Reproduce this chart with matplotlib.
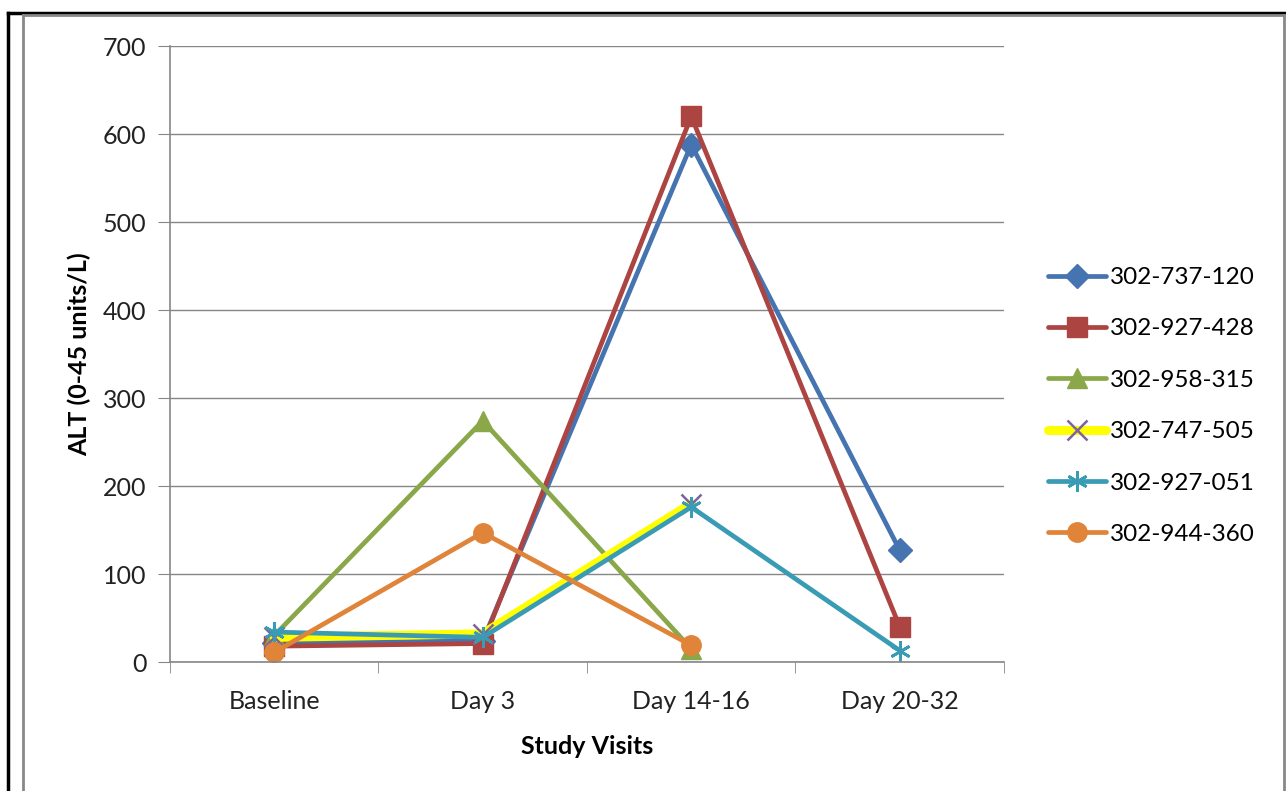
import numpy as np
import matplotlib.pyplot as plt
from matplotlib.lines import Line2D

plt.rcParams['font.family'] = ['Lato', 'DejaVu Sans']

visits = ['Baseline', 'Day 3', 'Day 14-16', 'Day 20-32']
patients = ['302-737-120', '302-927-428', '302-958-315',
            '302-747-505', '302-927-051', '302-944-360']

# ALT values per visit (nan = no visit)
alt_737_120 = [22, 24, 588, 127]
alt_927_428 = [18, 21, 620, 40]
alt_958_315 = [30, 274, 15, np.nan]
alt_747_505 = [28, 32, 180, np.nan]
alt_927_051 = [34, 28, 176, 13]
alt_944_360 = [11, 147, 19, np.nan]

series = [alt_737_120, alt_927_428, alt_958_315,
          alt_747_505, alt_927_051, alt_944_360]

styles = [
    dict(color='#4674B0', marker='D', lw=3.4, ms=12, mfc='#4674B0', mec='#4674B0'),
    dict(color='#AC4442', marker='s', lw=3.4, ms=14, mfc='#AC4442', mec='#AC4442'),
    dict(color='#8AA84A', marker='^', lw=3.4, ms=14, mfc='#8AA84A', mec='#8AA84A'),
    dict(color='#FFFF00', marker='x', lw=6.5, ms=15, mfc='none', mec='#7E62A0', mew=1.8),
    dict(color='#3A9BB4', marker=(6, 2, 0), lw=3.4, ms=15, mfc='none', mec='#3A9BB4', mew=2),
    dict(color='#E0843A', marker='o', lw=3.4, ms=14, mfc='#E0843A', mec='#E0843A'),
]

fig = plt.figure(figsize=(12.86, 7.91), dpi=100)
ax = fig.add_axes([170 / 1286, (791 - 662) / 791, (1004 - 170) / 1286, (662 - 46) / 791])

x = np.arange(len(visits))
for name, vals, st in zip(patients, series, styles):
    ax.plot(x, vals, label=name, solid_capstyle='round', **st)

ax.set_xlim(-0.5, len(visits) - 0.5)
ax.set_ylim(0, 700)
ax.set_yticks(np.arange(0, 701, 100))
ax.set_xticks(x)
ax.set_xticklabels(visits)
ax.set_xticks(np.arange(-0.5, len(visits), 1), minor=True)
ax.tick_params(axis='x', which='major', length=0, pad=20, labelsize=18, labelcolor='#222222')
ax.tick_params(axis='x', which='minor', length=8, color='#868686', direction='out')
ax.tick_params(axis='y', length=9, color='#868686', pad=8, labelsize=18, labelcolor='#222222')
ax.grid(axis='y', color='#868686', lw=1)
ax.set_axisbelow(True)
for s in ['top', 'right']:
    ax.spines[s].set_visible(False)
for s in ['left', 'bottom']:
    ax.spines[s].set_color('#868686')
    ax.spines[s].set_linewidth(1.2)

ax.set_xlabel('Study Visits', fontsize=18, fontweight='bold', labelpad=16)
ax.set_ylabel('ALT (0-45 units/L)', fontsize=18, fontweight='bold', labelpad=8)

ax.legend(loc='center left', bbox_to_anchor=(1026 / 1286, 385 / 791),
          bbox_transform=fig.transFigure, frameon=False, fontsize=17.5,
          handlelength=2.4, labelspacing=1.25, handletextpad=0.15)

# page borders
fig.add_artist(Line2D([8 / 1286, 1], [1 - 13 / 791, 1 - 13 / 791], color='black', lw=2.5))
fig.add_artist(Line2D([8 / 1286, 8 / 1286], [0, 1 - 13 / 791], color='black', lw=2.5))
fig.add_artist(Line2D([23 / 1286, 23 / 1286], [0, 1 - 15 / 791], color='#888888', lw=2))
fig.add_artist(Line2D([1284 / 1286, 1284 / 1286], [0, 1 - 15 / 791], color='#888888', lw=2))
fig.add_artist(Line2D([23 / 1286, 1284 / 1286], [1 - 15 / 791, 1 - 15 / 791], color='#888888', lw=2))

fig.savefig('out.png', dpi=100)
